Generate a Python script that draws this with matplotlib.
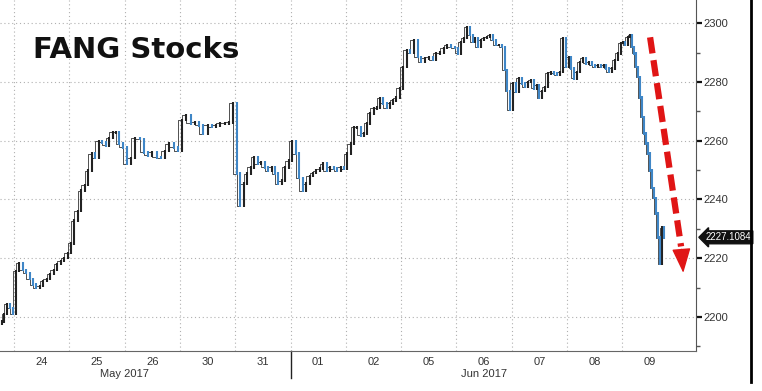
import numpy as np
import matplotlib.pyplot as plt
from matplotlib.lines import Line2D
from matplotlib.ticker import MultipleLocator

# trading days shown (first one only partly visible)
days = ["23", "24", "25", "26", "30", "31", "01", "02", "05", "06", "07", "08", "09"]
# share of each day's width that has data
span_start = [0.75, 0, 0, 0, 0, 0, 0, 0, 0, 0, 0, 0, 0]
span_end = [1, 1, 1, 1, 1, 1, 1, 1, 1, 1, 1, 1, 0.77]

# intraday index levels
d23 = [2198.5, 2201, 2204.5, 2203, 2201]
d24 = [2215.7, 2218.4, 2216, 2215, 2213, 2211, 2210, 2210.5, 2212.3, 2213, 2214.7, 2216, 2218, 2219, 2220, 2221.8]
d25 = [2225, 2232.8, 2236, 2243, 2245, 2249.8, 2255.6, 2254, 2260, 2259.4, 2258.4, 2261, 2262.8, 2263, 2259, 2257.7]
d26 = [2252, 2254, 2261, 2260.6, 2256, 2255, 2256, 2254.3, 2254, 2256.6, 2259, 2257.7, 2256.6]
d30 = [2267, 2268.6, 2265.9, 2266.2, 2265.2, 2262.4, 2265.2, 2264.6, 2265.2, 2265.9, 2265.9, 2266.2, 2272.7]
d31 = [2248.8, 2237.9, 2245.4, 2248.8, 2250.9, 2254.3, 2252.2, 2252.6, 2250.9, 2249.8, 2250.9, 2248.8, 2245.4, 2246.4, 2250.9, 2253.2]
d01 = [2260, 2255.6, 2247.4, 2243, 2245.4, 2248, 2249, 2249.8, 2250.5, 2252.2, 2249.8, 2250.9, 2250.5, 2249.8, 2250.9, 2250.5]
d02 = [2255.6, 2259, 2264.5, 2264.5, 2261.8, 2262.5, 2265.9, 2269.3, 2271, 2271.3, 2274.4, 2272.7, 2271.3, 2272.7, 2273.7, 2274.7, 2277.8]
d05 = [2285, 2290.8, 2290, 2294.2, 2288.4, 2286.7, 2288, 2288.4, 2287.4, 2289.7, 2290, 2291.5, 2292.5, 2291.8, 2291.5]
d06 = [2289.7, 2293.5, 2294.9, 2298.6, 2295.9, 2293.5, 2294.9, 2291.8, 2294.2, 2294.9, 2295.2, 2295.9, 2294.2, 2292.5, 2292.5, 2291.8, 2284, 2277, 2270.5]
d07 = [2279.5, 2276.5, 2281.2, 2279.5, 2278.2, 2279.9, 2280.5, 2277.8, 2278.8, 2274.7, 2277, 2278.2, 2282.9, 2283.3, 2282.9, 2282.3, 2283.3, 2295, 2285]
d08 = [2288.4, 2284.6, 2281.2, 2283.3, 2286.7, 2288, 2286.3, 2286.7, 2285.7, 2285, 2285.7, 2285, 2285.7, 2284.6, 2283.3, 2284.6, 2287.4, 2289.7, 2293.2]
d09 = [2293.5, 2292.5, 2295.2, 2295.9, 2291.8, 2289.7, 2285, 2281.6, 2274.7, 2268, 2262.5, 2259, 2255.6, 2249.8, 2244, 2240.6, 2235.2, 2227, 2218, 2230.4, 2227.1]
sessions = [d23, d24, d25, d26, d30, d31, d01, d02, d05, d06, d07, d08, d09]

last_price = 2227.1084
month_labels = ["May 2017", "Jun 2017"]
month_pos = [2.0, 8.5]

narrow = ["Liberation Sans Narrow", "Liberation Sans", "DejaVu Sans"]

# build bar positions: day k occupies [k-1, k] on the x scale
xs, closes = [], []
for k, vals in enumerate(sessions):
    n = len(vals)
    frac = span_start[k] + (np.arange(n) + 0.5) / n * (span_end[k] - span_start[k])
    xs.extend(k - 1 + frac)
    closes.extend(vals)
xs = np.array(xs)
closes = np.array(closes)
opens = np.r_[closes[0] - 1, closes[:-1]]
lo = np.minimum(opens, closes) - 0.4
hi = np.maximum(opens, closes) + 0.4
up = closes >= opens

fig = plt.figure(figsize=(7.62, 3.91), dpi=100)
ax = fig.add_axes([0, 40 / 391, 696 / 762, 351 / 391])

ax.plot(xs, closes, drawstyle="steps-pre", color="#333333", lw=0.6, zorder=2)
ax.vlines(xs[up], lo[up], hi[up], color="#222222", lw=1.5, zorder=3)
ax.vlines(xs[~up], lo[~up], hi[~up], color="#3f86c6", lw=1.5, zorder=3)

ax.set_xlim(-0.253, 12.33)
ax.set_ylim(2188.4, 2307.9)

# grid
grid_kw = dict(color="#b0b0b0", lw=0.8, ls=(0, (1, 2.5)), zorder=0)
for b in range(12):
    ax.axvline(b, **grid_kw)
for v in range(2200, 2301, 20):
    ax.axhline(v, **grid_kw)

# y axis on the right
ax.yaxis.tick_right()
ax.yaxis.set_major_locator(MultipleLocator(20))
ax.yaxis.set_minor_locator(MultipleLocator(10))
ax.tick_params(axis="y", which="major", direction="out", length=4, width=1.6,
               color="#111111", labelsize=8, labelcolor="#333333", pad=1)
ax.tick_params(axis="y", which="minor", direction="out", length=3, width=1,
               color="#555555")

# x axis: day labels centred in each day
ax.set_xticks(np.arange(12) + 0.5)
ax.set_xticklabels(days[1:])
ax.tick_params(axis="x", length=0, labelsize=8, labelcolor="#333333", pad=4)

for lab in ax.get_xticklabels() + ax.get_yticklabels():
    lab.set_family(narrow)

for side in ["top", "left"]:
    ax.spines[side].set_visible(False)
ax.spines["right"].set_color("#555555")
ax.spines["bottom"].set_color("#666666")

trans = ax.get_xaxis_transform()
for lab, p in zip(month_labels, month_pos):
    ax.text(p, -0.05, lab, transform=trans, ha="center", va="top", fontsize=8,
            color="#333333", family=narrow)
ax.add_line(Line2D([5, 5], [0, -0.077], transform=trans, color="#222222",
                   lw=1, clip_on=False))

# title
ax.text(0.047, 0.835, "FANG Stocks", transform=ax.transAxes, fontsize=21,
        fontweight="bold", color="#111111", va="baseline", ha="left")

# red dashed arrow: dashed shaft plus solid head
ax.plot([11.5, 12.06], [2295.2, 2224], color="#e01515", lw=4.5,
        dashes=(2.6, 1.1), solid_capstyle="butt", dash_capstyle="butt", zorder=5)
ax.annotate("", xy=(12.1, 2215), xytext=(12.065, 2223),
            arrowprops=dict(arrowstyle="-|>,head_length=1.1,head_width=0.42",
                            color="#e01515", lw=1, mutation_scale=14,
                            shrinkA=0, shrinkB=0), zorder=5)

# last price tag
ax.annotate(f"{last_price:.4f}", xy=(1.0, last_price), xycoords=("axes fraction", "data"),
            xytext=(7, 0), textcoords="offset points", va="center", ha="left",
            fontsize=7, color="white", family=narrow,
            bbox=dict(boxstyle="larrow,pad=0.15", fc="#111111", ec="#111111"),
            annotation_clip=False)

# border on the right edge
fig.add_artist(Line2D([751 / 762, 751 / 762], [1, 9 / 391], transform=fig.transFigure,
                      color="black", lw=2))

fig.savefig("out.png", dpi=100)
